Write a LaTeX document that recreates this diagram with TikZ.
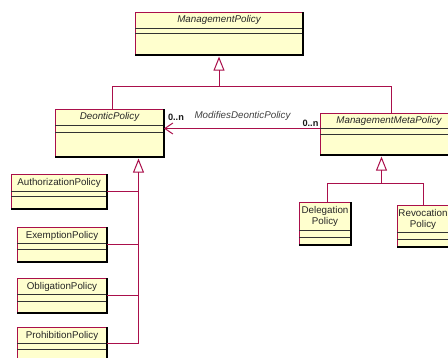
\documentclass[tikz,border=0pt]{standalone}
\usepackage{fontspec}
\setmainfont{Liberation Sans}
\usetikzlibrary{arrows.meta}
\definecolor{umlred}{RGB}{170,15,75}
\definecolor{umlfill}{RGB}{255,255,206}
\tikzset{
 cbox/.style={draw=umlred, fill=umlfill, line width=0.8pt, inner sep=0pt, outer sep=0pt, rectangle},
 cline/.style={draw=black!80, line width=0.7pt},
 shadowline/.style={draw=black, line width=1.6pt},
 conn/.style={draw=umlred, line width=1pt},
 gen/.style={-{Triangle[open, length=14pt, width=11pt]}},
 assoc/.style={-{Straight Barb[length=8pt, width=11pt]}},
 ttl/.style={font=\fontsize{9.8}{11}\selectfont\itshape, text=black!85, inner sep=0pt},
 cls/.style={font=\fontsize{9.8}{11}\selectfont, text=black!85, inner sep=0pt, align=center},
 mult/.style={font=\fontsize{9.2}{11}\selectfont\bfseries, text=black!90, inner sep=0pt},
 rolelbl/.style={font=\fontsize{9.8}{11}\selectfont\itshape, text=black!75, inner sep=0pt},
}
% #1 name, #2 x1, #3 y1, #4 x2, #5 y2, #6 first line y, #7 second line y
\newcommand\classbox[7]{%
 \node[cbox, minimum width={#4-#2}, minimum height={#5-#3}] (#1) at ({(#2+#4)/2},{(#3+#5)/2}) {};
 \draw[cline] (#2,#6) -- (#4,#6);
 \draw[cline] (#2,#7) -- (#4,#7);
 \draw[shadowline] (#1.south west) -- (#1.south east) -- (#1.north east);
}
\begin{document}
\begin{tikzpicture}[x=1pt, y=-1pt]
\useasboundingbox (0,0) rectangle (448,358);
\clip (0,0) rectangle (448,358);
\fill[white] (0,0) rectangle (448,358);

% classes
\classbox{MP}{135}{12}{303}{55}{28}{33}
\node[ttl] (MPt) at (219,20) {ManagementPolicy};

\classbox{DP}{55}{109}{164}{157}{125}{132}
\node[ttl] (DPt) at (109.5,117) {DeonticPolicy};

\classbox{MMP}{320}{113}{458}{155}{128}{134}
\node[ttl] (MMPt) at (389,120.5) {ManagementMetaPolicy};

\classbox{AP}{11}{174}{107}{209}{191}{196}
\node[cls] (APt) at (59,182.5) {AuthorizationPolicy};

\classbox{EP}{17}{227}{107}{262}{243}{249}
\node[cls] (EPt) at (62,235.5) {ExemptionPolicy};

\classbox{OP}{17}{278}{107}{313}{294}{301}
\node[cls] (OPt) at (62,286.5) {ObligationPolicy};

\classbox{PP}{17}{327}{107}{360}{343}{349}
\node[cls] (PPt) at (62,335.5) {ProhibitionPolicy};

\classbox{DelP}{299}{202}{351}{245}{230}{237}
\node[cls] (DelPt) at (325,216.5) {Delegation\\Policy};

\classbox{RevP}{397}{205}{449}{247}{232}{239}
\node[cls] (RevPt) at (423,219) {Revocation\\Policy};

% junction points
\coordinate (j1) at (112.5,86.5);
\coordinate (j2) at (391.5,86.5);
\coordinate (jm) at (219,86.5);
\coordinate (dx) at (138.5,0);
\coordinate (k1) at (327.5,183.5);
\coordinate (k2) at (423.5,183.5);
\coordinate (km) at (381.5,183.5);
\coordinate (a1) at (320,128.5);

% plain connector segments
\draw[conn]
  (DP.north -| j1) -- (j1) -- (j2) -- (MMP.north -| j2)
  (AP.east) -- (AP.east -| dx)
  (EP.east) -- (EP.east -| dx)
  (OP.east) -- (OP.east -| dx)
  (PP.east) -- (PP.east -| dx)
  (DelP.north -| k1) -- (k1) -- (k2) -- (RevP.north -| k2);

% generalization arrows
\draw[conn, gen, shorten >=1.6pt] (jm) -- (MP.south);
\draw[conn, gen, shorten >=1.6pt] (PP.east -| dx) -- (DP.south -| dx);
\draw[conn, gen, shorten >=1.6pt] (km) -- (MMP.south -| km);

% association
\draw[conn, assoc] (a1) -- (DP.east |- a1);
\node[mult] (m1) at (176,117.5) {0..n};
\node[rolelbl] (r1) at (242.5,116) {ModifiesDeonticPolicy};
\node[mult] (m2) at (310.5,123) {0..n};
\end{tikzpicture}
\end{document}
